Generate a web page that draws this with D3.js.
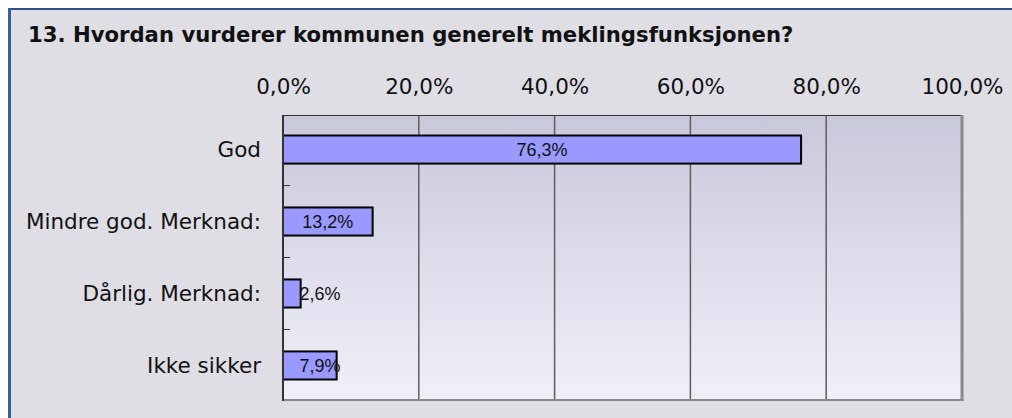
<!DOCTYPE html>
<html>
<head>
<meta charset="utf-8">
<script src="https://cdn.jsdelivr.net/npm/d3@7"></script>
<style>
  html, body { margin: 0; padding: 0; background: #fff; }
  svg { display: block; }
</style>
</head>
<body>
<div id="chart"></div>
<script>
var title = "13. Hvordan vurderer kommunen generelt meklingsfunksjonen?";
var categories = ["God", "Mindre god. Merknad:", "Dårlig. Merknad:", "Ikke sikker"];
var values = [76.3, 13.2, 2.6, 7.9];
var tickValues = [0, 20, 40, 60, 80, 100];

var W = 1012, H = 418;
var margin = { top: 115, left: 283, right: 1012 - 962, bottom: 418 - 400 };
var fmt = d => d.toFixed(1).replace(".", ",") + "%";

var svg = d3.select("#chart").append("svg")
    .attr("width", W).attr("height", H);

var defs = svg.append("defs");
var grad = defs.append("linearGradient").attr("id", "plotbg")
    .attr("x1", 0).attr("y1", 0).attr("x2", 0).attr("y2", 1);
grad.append("stop").attr("offset", "0%").attr("stop-color", "#c9c8da");
grad.append("stop").attr("offset", "100%").attr("stop-color", "#f0f0f9");

// panel
svg.append("rect").attr("x", 8).attr("y", 8).attr("width", W).attr("height", H)
    .attr("fill", "#dfdee4");
svg.append("line").attr("x1", 8).attr("x2", W).attr("y1", 9).attr("y2", 9)
    .attr("stroke", "#2e5288").attr("stroke-width", 2);
svg.append("line").attr("x1", 9.5).attr("x2", 9.5).attr("y1", 8).attr("y2", H)
    .attr("stroke", "#3a5f98").attr("stroke-width", 3);

svg.append("text")
    .attr("x", 28).attr("y", 42)
    .attr("font-family", "DejaVu Sans, Verdana, sans-serif")
    .attr("font-weight", "bold")
    .attr("font-size", 21.2)
    .attr("fill", "#111")
    .text(title);

var x = d3.scaleLinear().domain([0, 100]).range([margin.left, W - margin.right]);
var y = d3.scaleBand().domain(categories).range([margin.top, H - margin.bottom])
    .paddingInner(0.61).paddingOuter(0.285);

// plot background
svg.append("rect")
    .attr("x", x(0)).attr("y", margin.top)
    .attr("width", x(100) - x(0)).attr("height", H - margin.bottom - margin.top)
    .attr("fill", "url(#plotbg)");

// grid lines
svg.append("g").selectAll("line")
    .data(tickValues.slice(1, -1))
    .join("line")
    .attr("x1", d => x(d)).attr("x2", d => x(d))
    .attr("y1", margin.top).attr("y2", H - margin.bottom)
    .attr("stroke", "#5e5e5e").attr("stroke-width", 1.5);

// frame
svg.append("line").attr("x1", x(0)).attr("x2", x(100))
    .attr("y1", margin.top + 0.5).attr("y2", margin.top + 0.5)
    .attr("stroke", "#333").attr("stroke-width", 1);
svg.append("line").attr("x1", x(100)).attr("x2", x(100))
    .attr("y1", margin.top).attr("y2", H - margin.bottom + 1)
    .attr("stroke", "#888").attr("stroke-width", 3);
svg.append("line").attr("x1", x(0)).attr("x2", x(100) + 1.5)
    .attr("y1", H - margin.bottom).attr("y2", H - margin.bottom)
    .attr("stroke", "#888").attr("stroke-width", 2);

// top axis labels
var xAxis = svg.append("g")
    .attr("transform", "translate(0," + 94 + ")")
    .call(d3.axisTop(x).tickValues(tickValues).tickFormat(fmt).tickSize(0).tickPadding(0));
xAxis.select(".domain").remove();
xAxis.selectAll("text")
    .attr("font-family", "DejaVu Sans, Verdana, sans-serif")
    .attr("font-size", 21.5)
    .attr("fill", "#111")
    .attr("dy", 0);

// left axis: band boundary ticks inward
var step = y.step();
svg.append("g").selectAll("line")
    .data(categories.slice(1))
    .join("line")
    .attr("x1", x(0)).attr("x2", x(0) + 7)
    .attr("y1", d => y(d) - y.paddingInner() * step / 2)
    .attr("y2", d => y(d) - y.paddingInner() * step / 2)
    .attr("stroke", "#333").attr("stroke-width", 1);

// bars
svg.append("g").selectAll("rect")
    .data(values)
    .join("rect")
    .attr("x", x(0))
    .attr("y", (d, i) => y(categories[i]))
    .attr("width", d => x(d) - x(0))
    .attr("height", y.bandwidth())
    .attr("fill", "#9999ff")
    .attr("stroke", "#000")
    .attr("stroke-width", 2);

svg.append("line").attr("x1", x(0)).attr("x2", x(0))
    .attr("y1", margin.top).attr("y2", H - margin.bottom + 1)
    .attr("stroke", "#333").attr("stroke-width", 2);

// value labels
svg.append("g").selectAll("text")
    .data(values)
    .join("text")
    .attr("x", d => Math.max((x(d) + x(0)) / 2, x(0) + 37))
    .attr("y", (d, i) => y(categories[i]) + y.bandwidth() / 2)
    .attr("dy", "0.35em")
    .attr("text-anchor", "middle")
    .attr("font-family", "Liberation Sans, Arial, sans-serif")
    .attr("font-size", 18)
    .attr("fill", "#111")
    .text(fmt);

// category labels
svg.append("g").selectAll("text")
    .data(categories)
    .join("text")
    .attr("x", x(0) - 22)
    .attr("y", d => y(d) + y.bandwidth() / 2)
    .attr("dy", "0.36em")
    .attr("text-anchor", "end")
    .attr("font-family", "DejaVu Sans, Verdana, sans-serif")
    .attr("font-size", 21.5)
    .attr("fill", "#111")
    .text(d => d);
</script>
</body>
</html>
